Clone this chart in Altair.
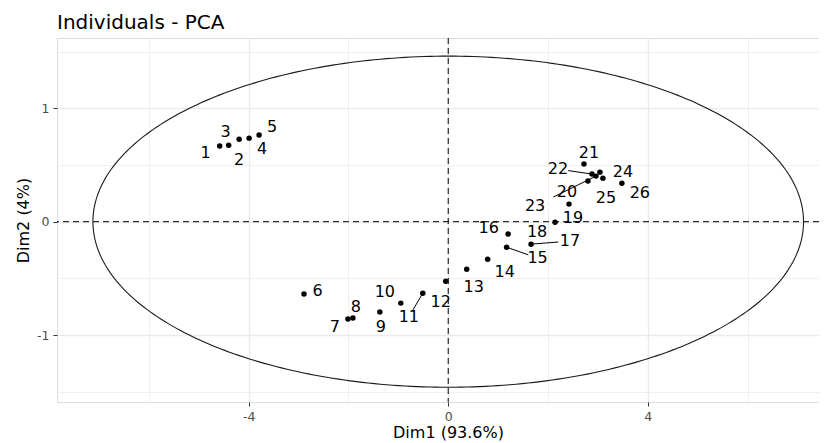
import altair as alt
import pandas as pd
import numpy as np

# ---- data ----
ids = [str(i) for i in range(1, 27)]
dim1 = [-4.58, -4.40, -4.19, -3.99, -3.79, -2.89, -2.01, -1.91, -1.37, -0.95,
        -0.51, -0.05, 0.37, 0.79, 1.17, 1.20, 1.66, 2.14, 2.42, 2.80,
        2.72, 2.88, 2.96, 3.04, 3.10, 3.48]
dim2 = [0.667, 0.675, 0.728, 0.737, 0.764, -0.638, -0.859, -0.850, -0.797, -0.718,
        -0.630, -0.525, -0.419, -0.331, -0.225, -0.109, -0.198, -0.004, 0.155, 0.358,
        0.508, 0.420, 0.402, 0.437, 0.384, 0.340]
# repelled label positions (data units)
lab_x = [-4.86, -4.19, -4.46, -3.73, -3.53, -2.62, -2.27, -1.85, -1.35, -1.27,
         -0.79, -0.15, 0.51, 1.13, 1.79, 0.81, 2.44, 1.78, 2.50, 2.38,
         2.82, 2.20, 1.74, 3.50, 3.16, 3.84]
lab_y = [0.605, 0.543, 0.790, 0.640, 0.834, -0.612, -0.930, -0.753, -0.930, -0.621,
         -0.841, -0.710, -0.577, -0.444, -0.321, -0.056, -0.171, -0.092, 0.032, 0.261,
         0.605, 0.464, 0.138, 0.437, 0.208, 0.252]
segment_ids = ["11", "15", "17", "22", "23"]

ellipse_rx = 7.12
ellipse_ry = 1.46

x_ticks = [-6, -4, -2, 0, 2, 4, 6]
y_ticks = [-1.5, -1, -0.5, 0, 0.5, 1, 1.5]
x_title = "Dim1 (93.6%)"
y_title = "Dim2 (4%)"
chart_title = "Individuals - PCA"

# ---- build tables ----
pts = pd.DataFrame({"id": ids, "x": dim1, "y": dim2, "lx": lab_x, "ly": lab_y})
seg = pts[pts["id"].isin(segment_ids)].copy()
f = 0.7
seg["ex"] = seg["x"] + f * (seg["lx"] - seg["x"])
seg["ey"] = seg["y"] + f * (seg["ly"] - seg["y"])

t = np.linspace(0, 2 * np.pi, 361)
ell = pd.DataFrame({"ex": ellipse_rx * np.cos(t), "ey": ellipse_ry * np.sin(t), "o": np.arange(len(t))})

FONT = "DejaVu Sans"
xdom = [-7.84, 7.43]
ydom = [-1.59, 1.62]

xaxis = alt.Axis(
    values=x_ticks,
    labelExpr="datum.value % 4 == 0 ? toString(datum.value) : ''",
    grid=True, gridColor="#EBEBEB",
    gridWidth={"condition": {"test": "datum.value % 4 == 0", "value": 1.4}, "value": 0.8},
    tickOpacity={"condition": {"test": "datum.value % 4 == 0", "value": 1}, "value": 0},
    tickColor="#333333", tickSize=4, tickWidth=1, domain=False,
    labelColor="#4D4D4D", labelFontSize=12.5, labelFont=FONT, labelPadding=4,
    title=x_title, titleFont=FONT, titleFontSize=16, titleFontWeight="normal",
    titleColor="#000000", titlePadding=2, titleX=391,
)
yaxis = alt.Axis(
    values=y_ticks,
    labelExpr="datum.value == round(datum.value) ? toString(datum.value) : ''",
    grid=True, gridColor="#EBEBEB",
    gridWidth={"condition": {"test": "datum.value == round(datum.value)", "value": 1.4}, "value": 0.8},
    tickOpacity={"condition": {"test": "datum.value == round(datum.value)", "value": 1}, "value": 0},
    tickColor="#333333", tickSize=4, tickWidth=1, domain=False,
    labelColor="#4D4D4D", labelFontSize=12.5, labelFont=FONT, labelPadding=4,
    title=y_title, titleFont=FONT, titleFontSize=16, titleFontWeight="normal",
    titleColor="#000000", titlePadding=5,
)
xs = alt.Scale(domain=xdom, nice=False, zero=False)
ys = alt.Scale(domain=ydom, nice=False, zero=False)

base_pts = alt.Chart(pts)

points = base_pts.mark_circle(size=30, color="#000000", opacity=1).encode(
    x=alt.X("x:Q", scale=xs, axis=xaxis),
    y=alt.Y("y:Q", scale=ys, axis=yaxis),
)

vline = alt.Chart(pd.DataFrame({"v": [0]})).mark_rule(
    color="#000000", strokeDash=[6, 4], strokeWidth=1
).encode(x=alt.X("v:Q", scale=xs, axis=xaxis))
hline = alt.Chart(pd.DataFrame({"v": [0]})).mark_rule(
    color="#000000", strokeDash=[6, 4], strokeWidth=1
).encode(y=alt.Y("v:Q", scale=ys, axis=yaxis))

ellipse = alt.Chart(ell).mark_line(color="#1a1a1a", strokeWidth=1.1).encode(
    x=alt.X("ex:Q", scale=xs, axis=xaxis),
    y=alt.Y("ey:Q", scale=ys, axis=yaxis),
    order="o:Q",
)

segments = alt.Chart(seg).mark_rule(color="#000000", strokeWidth=1).encode(
    x=alt.X("x:Q", scale=xs, axis=xaxis),
    y=alt.Y("y:Q", scale=ys, axis=yaxis),
    x2="ex:Q", y2="ey:Q",
)

labels = base_pts.mark_text(
    font=FONT, fontSize=16, color="#000000", align="center", baseline="middle"
).encode(
    x=alt.X("lx:Q", scale=xs, axis=xaxis),
    y=alt.Y("ly:Q", scale=ys, axis=yaxis),
    text="id:N",
)

chart = alt.layer(vline, hline, ellipse, segments, points, labels).properties(
    width=762, height=364,
    title=alt.TitleParams(chart_title, anchor="start", frame="group", font=FONT, fontSize=20,
                          fontWeight="normal", color="#000000", offset=5),
    autosize=alt.AutoSizeParams(type="none"),
    padding={"left": 49, "top": 30, "right": 0, "bottom": 40},
).configure_view(stroke=None).configure(background="white")

chart.save("out.html", embed_options={"renderer": "svg", "actions": False})
